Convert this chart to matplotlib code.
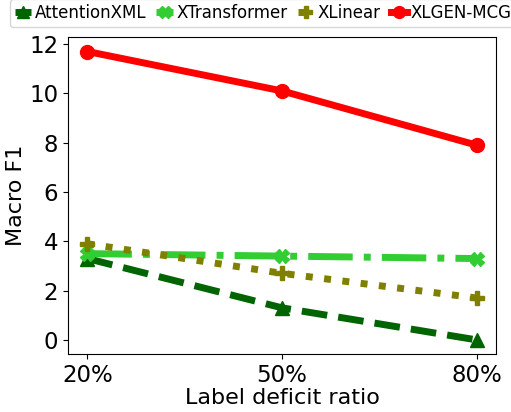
import matplotlib
matplotlib.use("Agg")
import matplotlib.pyplot as plt

ratios = ["20%", "50%", "80%"]
attention_xml = [3.3, 1.3, 0.0]
xtransformer = [3.5, 3.4, 3.3]
xlinear = [3.9, 2.7, 1.7]
xlgen_mcg = [11.7, 10.1, 7.9]
y_ticks = [0, 2, 4, 6, 8, 10, 12]

fig, ax = plt.subplots(figsize=(5.11, 4.12), dpi=100)
x = range(len(ratios))

ax.plot(x, attention_xml, color="darkgreen", linestyle="--", marker="^",
        linewidth=5, markersize=10, label="AttentionXML")
ax.plot(x, xtransformer, color="limegreen", linestyle="-.", marker="X",
        linewidth=5, markersize=10, label="XTransformer")
ax.plot(x, xlinear, color="olive", linestyle=":", marker="P",
        linewidth=5, markersize=10, label="XLinear")
ax.plot(x, xlgen_mcg, color="red", linestyle="-", marker="o",
        linewidth=5, markersize=10, label="XLGEN-MCG")

ax.set_xticks(list(x))
ax.set_xticklabels(ratios)
ax.set_yticks(y_ticks)
ax.tick_params(labelsize=16.5)
ax.set_xlabel("Label deficit ratio", fontsize=16, labelpad=1)
ax.set_ylabel("Macro F1", fontsize=16, labelpad=2)

fig.legend(loc="upper center", bbox_to_anchor=(0.515, 1.01), ncol=4, fontsize=12,
           handlelength=1.0, handletextpad=0.2, columnspacing=0.6,
           borderaxespad=0.2, borderpad=0.3, markerscale=0.85)

fig.subplots_adjust(left=0.133, right=0.971, top=0.91, bottom=0.14)
fig.savefig("out.png", dpi=100)
